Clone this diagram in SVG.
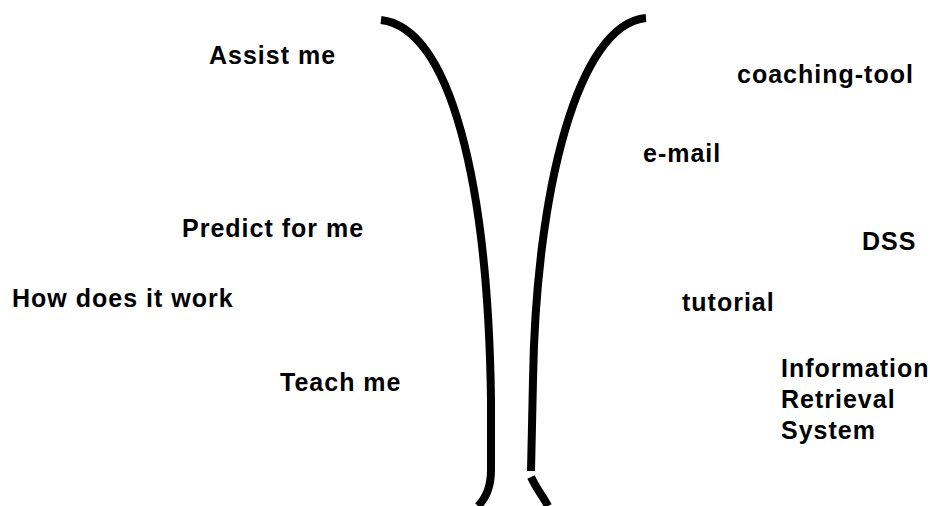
<svg xmlns="http://www.w3.org/2000/svg" width="930" height="506" viewBox="0 0 930 506">
<style>
text{font-family:"Liberation Sans",Arial,sans-serif;font-weight:bold;font-size:25px;letter-spacing:1px;fill:#000}
.c{fill:none;stroke:#000;stroke-width:8;stroke-linecap:butt}
</style>
<rect width="930" height="506" fill="#fff"/>
<g id="connectors">
<path class="c" d="M381,20 C450,28 488,180 491,400 L491,470 C491,490 484,500 478,506"/>
<path class="c" d="M646,18 C578,24 536,190 533,380 L531,471"/>
<path class="c" d="M531,477 C536,488 544,498 548,506"/>
</g>
<g id="assist"><text x="209" y="64">Assist me</text></g>
<g id="predict"><text x="182" y="237">Predict for me</text></g>
<g id="how"><text x="12" y="307">How does it work</text></g>
<g id="teach"><text x="280" y="391">Teach me</text></g>
<g id="coaching"><text x="737" y="83">coaching-tool</text></g>
<g id="email"><text x="643" y="162">e-mail</text></g>
<g id="dss"><text x="862" y="250">DSS</text></g>
<g id="tutorial"><text x="682" y="311">tutorial</text></g>
<g id="irs"><text x="781" y="377">Information</text><text x="781" y="408">Retrieval</text><text x="781" y="439">System</text></g>
</svg>
